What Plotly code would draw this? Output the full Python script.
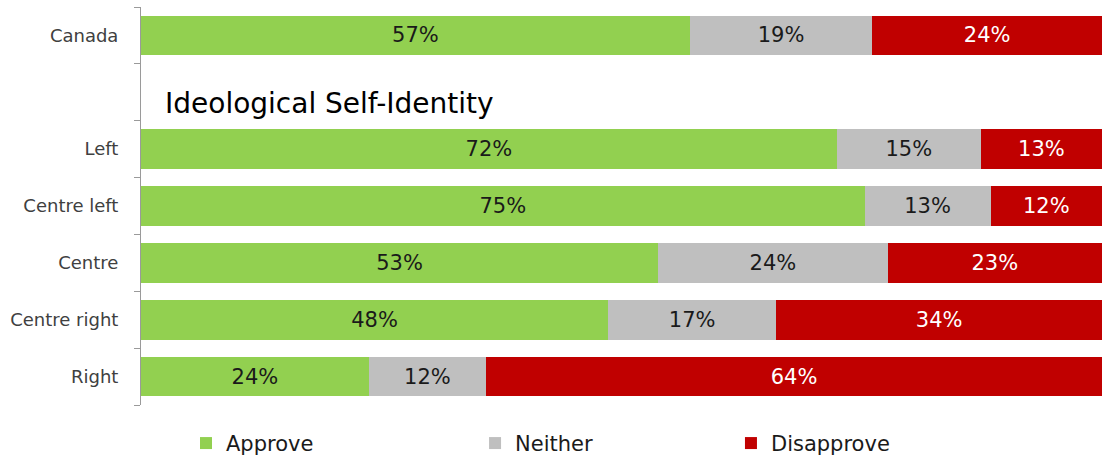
import plotly.graph_objects as go

categories = ["Canada", "", "Left", "Centre left", "Centre", "Centre right", "Right"]
approve = [57.1, None, 72.4, 75.3, 53.8, 48.6, 23.7]
neither = [19.0, None, 15.0, 13.1, 23.9, 17.5, 12.2]
disapprove = [23.9, None, 12.6, 11.6, 22.3, 33.9, 64.1]
approve_lbl = ["57%", "", "72%", "75%", "53%", "48%", "24%"]
neither_lbl = ["19%", "", "15%", "13%", "24%", "17%", "12%"]
disapprove_lbl = ["24%", "", "13%", "12%", "23%", "34%", "64%"]
section_title = "Ideological Self-Identity"

ypos = list(range(len(categories)))
FONT = "DejaVu Sans"

fig = go.Figure()
series = [
    ("Approve", approve, approve_lbl, "#92D050", "#1a1a1a", "legend", 0.0468),
    ("Neither", neither, neither_lbl, "#BFBFBF", "#1a1a1a", "legend2", 0.3476),
    ("Disapprove", disapprove, disapprove_lbl, "#C00000", "#FFFFFF", "legend3", 0.6139),
]
legend_style = dict(
    orientation="h", xanchor="left", y=-0.045, yanchor="top",
    font=dict(family=FONT, size=21, color="#1a1a1a"),
    itemclick=False, bgcolor="rgba(0,0,0,0)",
)
layout_legends = {}
for name, vals, lbls, col, tcol, lg, lx in series:
    fig.add_trace(go.Bar(
        name=name, y=ypos, x=vals, orientation="h",
        marker=dict(color=col, line=dict(width=0)),
        text=lbls, textposition="inside", insidetextanchor="middle",
        textfont=dict(family=FONT, size=21, color=tcol),
        width=0.7, hoverinfo="skip", legend=lg,
    ))
    layout_legends[lg] = dict(legend_style, x=lx)

fig.update_layout(
    barmode="stack",
    width=1102, height=461,
    margin=dict(l=141, r=0, t=7, b=56, autoexpand=False),
    paper_bgcolor="white", plot_bgcolor="white",
    font=dict(family=FONT, color="#404040"),
    uniformtext=dict(mode="show", minsize=10),
    xaxis=dict(range=[0, 100], visible=False, fixedrange=True, automargin=False),
    yaxis=dict(
        range=[6.5, -0.5], tickmode="array", tickvals=ypos, ticktext=categories,
        ticks="", showgrid=False, zeroline=False, automargin=False,
        showline=True, linecolor="#9a9a9a", linewidth=1,
        tickfont=dict(family=FONT, size=18, color="#404040"),
        ticklabelstandoff=18,
        minor=dict(tickmode="array", tickvals=[i - 0.5 for i in range(len(categories) + 1)],
                   ticks="outside", ticklen=6, tickcolor="#9a9a9a", tickwidth=1),
    ),
    showlegend=True,
    **layout_legends,
)
fig.add_annotation(
    text=section_title, xref="paper", yref="y", x=0.023, y=1.2,
    xanchor="left", yanchor="middle", showarrow=False,
    font=dict(family=FONT, size=28, color="#000000"),
)
fig.write_html(
    "out.html",
    config={"displayModeBar": False, "staticPlot": True},
    post_script="document.body.style.margin='0';document.body.style.overflow='hidden';",
)
